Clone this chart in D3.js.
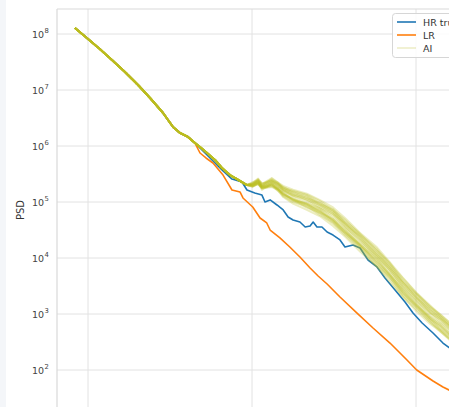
<!DOCTYPE html>
<html>
<head>
<meta charset="utf-8">
<script src="https://cdn.jsdelivr.net/npm/d3@7"></script>
<style>
  html, body { margin: 0; padding: 0; background: #fff; overflow: hidden; }
  text { font-family: "DejaVu Sans", sans-serif; }
</style>
</head>
<body>
<svg id="chart" width="449" height="407"></svg>
<script>
// Power spectral density versus wavenumber (log-log)
const hrK = [0.833, 1.00, 1.18, 1.40, 1.68, 2.02, 2.39, 2.87, 3.30, 3.64, 4.07, 4.49,
  4.82, 5.32, 5.95, 6.66, 7.55, 8.69, 9.32, 10.4, 11.5, 12.0, 12.9, 14.2, 15.5, 16.6,
  17.8, 19.6, 21.1, 22.6, 23.6, 24.9, 26.7, 28.7, 31.2, 34.4, 36.9, 41.3, 45.6, 51.0,
  57.8, 64.7, 74.5, 85.7, 95.9, 109, 127, 146, 173];
const hrPSD = [1.28e8, 8.15e7, 5.40e7, 3.43e7, 2.10e7, 1.23e7, 7.20e6, 3.88e6, 2.18e6, 1.71e6, 1.45e6, 1.13e6,
  9.21e5, 6.91e5, 4.97e5, 3.58e5, 2.57e5, 2.28e5, 1.64e5, 1.45e5, 1.33e5, 1.00e5, 1.09e5, 8.84e4, 7.20e4, 5.40e4,
  4.77e4, 4.39e4, 3.58e4, 3.73e4, 4.39e4, 3.58e4, 3.58e4, 2.91e4, 2.57e4, 2.10e4, 1.57e4, 1.71e4, 1.51e4, 9.21e3,
  6.91e3, 4.39e3, 2.68e3, 1.64e3, 1.04e3, 691, 458, 303, 210];

const lrK = [0.833, 1.00, 1.18, 1.40, 1.68, 2.02, 2.39, 2.87, 3.30, 3.64, 4.07, 4.49,
  4.82, 5.24, 5.78, 6.66, 7.55, 8.45, 8.81, 10.1, 11.2, 12.3, 12.9, 14.8, 17.0, 19.6,
  22.6, 25.3, 28.7, 34.4, 43.7, 54.7, 69.4, 88.1, 101, 127, 146, 173];
const lrPSD = [1.28e8, 8.15e7, 5.40e7, 3.43e7, 2.10e7, 1.23e7, 7.20e6, 3.88e6, 2.18e6, 1.71e6, 1.45e6, 1.13e6,
  7.50e5, 6.11e5, 4.97e5, 3.03e5, 1.64e5, 1.51e5, 1.18e5, 8.14e4, 5.18e4, 4.22e4, 3.16e4, 2.28e4, 1.57e4, 1.04e4,
  6.63e3, 4.77e3, 3.43e3, 2.01e3, 1.04e3, 562, 303, 151, 100, 63.6, 49.7, 38.8];

// AI ensemble: central curve plus per-member deviations (decades) from k = 10.1 on
const aiK = [0.833, 1.00, 1.18, 1.40, 1.68, 2.02, 2.39, 2.87, 3.30, 3.64, 4.07, 4.49,
  4.82, 5.32, 5.95, 6.56, 7.34, 8.10, 9.32, 10.1, 10.9, 11.5, 12.3, 13.2, 14.4, 15.5,
  17.8, 21.6, 26.0, 31.2, 36.9, 45.6, 57.8, 69.4, 83.3, 101, 122, 140, 173];
const aiPSD = [1.28e8, 8.15e7, 5.40e7, 3.43e7, 2.10e7, 1.23e7, 7.20e6, 3.88e6, 2.18e6, 1.71e6, 1.45e6, 1.13e6,
  9.60e5, 7.50e5, 5.62e5, 4.05e5, 3.03e5, 2.57e5, 2.01e5, 2.01e5, 2.28e5, 1.85e5, 2.01e5, 2.18e5, 1.85e5, 1.51e5,
  1.23e5, 1.00e5, 7.50e4, 5.40e4, 3.43e4, 1.93e4, 1.00e4, 5.62e3, 2.91e3, 1.64e3, 960, 691, 405];
const aiSpreadFrom = 19;
const aiMember01 = [0.02, 0.04, 0.03, 0.05, 0.06, 0.05, 0.08, 0.10, 0.12, 0.10, 0.14, 0.12, 0.15, 0.13, 0.16, 0.12, 0.14, 0.15, 0.13, 0.12];
const aiMember02 = [-0.02, -0.03, -0.01, -0.04, -0.06, -0.05, -0.08, -0.09, -0.07, -0.11, -0.10, -0.13, -0.12, -0.15, -0.13, -0.16, -0.14, -0.12, -0.15, -0.13];
const aiMember03 = [0.01, 0.02, 0.00, 0.03, 0.02, 0.05, 0.03, 0.06, 0.04, 0.07, 0.05, 0.08, 0.06, 0.09, 0.07, 0.06, 0.08, 0.05, 0.07, 0.06];
const aiMember04 = [-0.01, 0.00, -0.02, -0.01, -0.03, -0.02, -0.04, -0.03, -0.05, -0.04, -0.06, -0.05, -0.07, -0.06, -0.04, -0.07, -0.05, -0.08, -0.06, -0.07];
const aiMember05 = [0.03, 0.05, 0.06, 0.04, 0.08, 0.07, 0.05, 0.09, 0.07, 0.11, 0.09, 0.06, 0.10, 0.08, 0.11, 0.09, 0.12, 0.10, 0.09, 0.11];
const aiMember06 = [-0.03, -0.02, -0.05, -0.03, -0.02, -0.07, -0.05, -0.04, -0.09, -0.06, -0.08, -0.10, -0.07, -0.09, -0.11, -0.08, -0.10, -0.09, -0.11, -0.10];
const aiMember07 = [0.00, 0.01, 0.02, 0.01, 0.00, 0.02, 0.01, 0.03, 0.02, 0.01, 0.03, 0.02, 0.04, 0.01, 0.03, 0.02, 0.01, 0.03, 0.02, 0.03];
const aiMember08 = [0.02, 0.00, 0.01, -0.01, 0.01, -0.01, 0.02, 0.00, -0.02, 0.01, -0.01, 0.00, -0.02, 0.02, 0.00, -0.01, 0.01, -0.02, 0.00, -0.01];
const aiMember09 = [0.04, 0.06, 0.05, 0.07, 0.09, 0.08, 0.11, 0.13, 0.15, 0.16, 0.17, 0.18, 0.16, 0.19, 0.17, 0.18, 0.16, 0.17, 0.15, 0.16];
const aiMember10 = [-0.02, -0.01, -0.03, -0.04, -0.02, -0.04, -0.03, -0.06, -0.05, -0.03, -0.07, -0.06, -0.04, -0.03, -0.05, -0.04, -0.06, -0.03, -0.04, -0.05];
const aiMember11 = [0.01, 0.03, 0.02, 0.02, 0.04, 0.03, 0.06, 0.04, 0.08, 0.06, 0.09, 0.10, 0.08, 0.05, 0.07, 0.09, 0.06, 0.08, 0.10, 0.08];
const aiMember12 = [-0.01, -0.02, 0.00, -0.02, -0.04, -0.03, -0.06, -0.07, -0.10, -0.08, -0.12, -0.09, -0.11, -0.13, -0.09, -0.12, -0.10, -0.13, -0.12, -0.14];
const aiMember13 = [0.03, 0.02, 0.04, 0.06, 0.05, 0.08, 0.07, 0.11, 0.13, 0.14, 0.12, 0.15, 0.13, 0.16, 0.14, 0.17, 0.15, 0.14, 0.16, 0.15];
const aiMember14 = [-0.03, -0.04, -0.02, -0.05, -0.07, -0.06, -0.09, -0.12, -0.14, -0.13, -0.16, -0.15, -0.17, -0.16, -0.18, -0.15, -0.17, -0.16, -0.14, -0.16];
const aiMember15 = [0.05, 0.03, 0.07, 0.05, 0.04, 0.06, 0.09, 0.07, 0.10, 0.08, 0.12, 0.09, 0.11, 0.13, 0.10, 0.12, 0.09, 0.11, 0.12, 0.10];
const aiMember16 = [-0.02, -0.04, -0.01, -0.03, -0.05, -0.04, -0.02, -0.05, -0.03, -0.07, -0.04, -0.08, -0.06, -0.09, -0.07, -0.10, -0.08, -0.06, -0.09, -0.08];
const aiMember17 = [0.01, -0.01, 0.02, 0.00, 0.03, 0.01, 0.04, 0.02, 0.05, 0.03, 0.06, 0.04, 0.02, 0.05, 0.04, 0.03, 0.05, 0.04, 0.06, 0.04];
const aiMember18 = [0.00, -0.02, -0.01, -0.03, -0.01, -0.04, -0.02, -0.05, -0.03, -0.02, -0.04, -0.03, -0.05, -0.02, -0.06, -0.03, -0.04, -0.06, -0.03, -0.05];
const aiMembers = [aiMember01, aiMember02, aiMember03, aiMember04, aiMember05, aiMember06,
  aiMember07, aiMember08, aiMember09, aiMember10, aiMember11, aiMember12,
  aiMember13, aiMember14, aiMember15, aiMember16, aiMember17, aiMember18];

const yTicks = [1e2, 1e3, 1e4, 1e5, 1e6, 1e7, 1e8];
const xGrid = [1, 10, 100];
const seriesNames = ["HR truth", "LR", "AI"];
const seriesColors = ["#1f77b4", "#ff7f0e", "#bcbd22"];

const W = 449, H = 407;
const frame = { left: 57, top: 9, right: 540, bottom: 470 };

const svg = d3.select("#chart");

// page margin strip
svg.append("rect").attr("x", 0).attr("y", 0).attr("width", 6).attr("height", H).attr("fill", "#f4f6f9");

const x = d3.scaleLog().domain([1, 100]).range([88, 416]);
const y = d3.scaleLog().domain([1e8, 1e2]).range([34, 370]);

svg.append("defs").append("clipPath").attr("id", "plotClip")
  .append("rect").attr("x", frame.left).attr("y", frame.top)
  .attr("width", frame.right - frame.left).attr("height", frame.bottom - frame.top);

// grid
const grid = svg.append("g");
grid.selectAll("line.h").data(yTicks).join("line")
  .attr("x1", frame.left).attr("x2", frame.right)
  .attr("y1", d => y(d)).attr("y2", d => y(d))
  .attr("stroke", "#e2e2e2").attr("stroke-width", 1);
grid.selectAll("line.v").data(xGrid).join("line")
  .attr("y1", frame.top).attr("y2", frame.bottom)
  .attr("x1", d => x(d)).attr("x2", d => x(d))
  .attr("stroke", "#e2e2e2").attr("stroke-width", 1);

// spines
svg.append("line").attr("x1", frame.left).attr("x2", frame.left).attr("y1", frame.top).attr("y2", frame.bottom)
  .attr("stroke", "#d9d9d9").attr("stroke-width", 1.2);
svg.append("line").attr("x1", frame.left).attr("x2", frame.right).attr("y1", frame.top).attr("y2", frame.top)
  .attr("stroke", "#d9d9d9").attr("stroke-width", 1.2);

// y tick labels as powers of ten
const yLab = svg.append("g");
yTicks.forEach(t => {
  yLab.append("text")
    .attr("x", 44).attr("y", y(t) + 3.5)
    .attr("text-anchor", "end")
    .attr("font-size", 9.5).attr("fill", "#444")
    .text("10");
  yLab.append("text")
    .attr("x", 44.5).attr("y", y(t) - 1.5)
    .attr("font-size", 6.8).attr("fill", "#444")
    .text(String(Math.round(Math.log10(t))));
});

svg.append("text")
  .attr("transform", "translate(24,210) rotate(-90)")
  .attr("text-anchor", "middle")
  .attr("font-size", 10).attr("fill", "#333")
  .text("PSD");

const line = d3.line().x(d => x(d[0])).y(d => y(d[1]));
const plot = svg.append("g").attr("clip-path", "url(#plotClip)");

plot.append("path").datum(d3.zip(hrK, hrPSD)).attr("d", line)
  .attr("fill", "none").attr("stroke", seriesColors[0]).attr("stroke-width", 1.6).attr("stroke-linejoin", "round");
plot.append("path").datum(d3.zip(lrK, lrPSD)).attr("d", line)
  .attr("fill", "none").attr("stroke", seriesColors[1]).attr("stroke-width", 1.6).attr("stroke-linejoin", "round");

aiMembers.forEach(dev => {
  const vals = aiPSD.map((v, i) => i < aiSpreadFrom ? v : v * Math.pow(10, dev[i - aiSpreadFrom]));
  plot.append("path").datum(d3.zip(aiK, vals)).attr("d", line)
    .attr("fill", "none").attr("stroke", seriesColors[2]).attr("stroke-opacity", 0.28)
    .attr("stroke-width", 2).attr("stroke-linejoin", "round");
});

// legend
const lg = svg.append("g");
lg.append("rect").attr("x", 392.5).attr("y", 13.5).attr("width", 100).attr("height", 44)
  .attr("rx", 3).attr("fill", "#fff").attr("fill-opacity", 0.85)
  .attr("stroke", "#d6d6d6").attr("stroke-width", 1);
const rowY = [22, 35, 48];
const handleOpacity = [1, 1, 0.25];
seriesNames.forEach((name, i) => {
  lg.append("line").attr("x1", 397).attr("x2", 416).attr("y1", rowY[i]).attr("y2", rowY[i])
    .attr("stroke", seriesColors[i]).attr("stroke-width", 1.6).attr("stroke-opacity", handleOpacity[i]);
  lg.append("text").attr("x", 423).attr("y", rowY[i] + 3.5)
    .attr("font-size", 9.5).attr("fill", "#333").text(name);
});
</script>
</body>
</html>
